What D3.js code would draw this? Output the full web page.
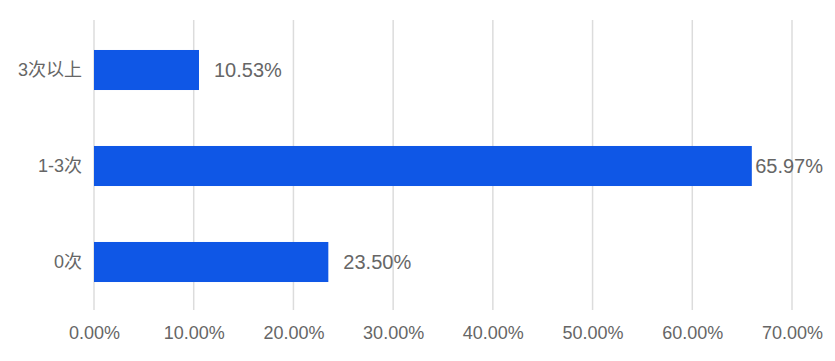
<!DOCTYPE html>
<html>
<head>
<meta charset="utf-8">
<script src="https://cdn.jsdelivr.net/npm/d3@7"></script>
<style>
  body { margin: 0; background: #fff; }
  text { font-family: "Liberation Sans", Arial, "Noto Sans CJK SC", sans-serif; fill: #666; }
</style>
</head>
<body>
<svg id="chart" width="835" height="361"></svg>
<script>
const categories = ['3次以上', '1-3次', '0次'];
const values = [0.1053, 0.6597, 0.2350];
const tickValues = [0, 0.1, 0.2, 0.3, 0.4, 0.5, 0.6, 0.7];

const svg = d3.select('#chart');
const width = 835;
const margin = { top: 20, left: 94, right: 43, bottom: 51 };
const innerW = 792 - margin.left;
const innerH = 310 - margin.top;

const x = d3.scaleLinear().domain([0, 0.7]).range([margin.left, margin.left + innerW]);
// step 96px, bar 40px
const y = d3.scaleBand().domain(categories).range([22, 310]).paddingInner(0.583).paddingOuter(0.2915);

const fmt = d => (d * 100).toFixed(2) + '%';

// gridlines
svg.append('g')
  .selectAll('line')
  .data(tickValues)
  .join('line')
  .attr('x1', d => x(d)).attr('x2', d => x(d))
  .attr('y1', margin.top).attr('y2', margin.top + innerH)
  .attr('stroke', '#dcdcdc')
  .attr('stroke-width', 1.5);

// x axis labels
const xAxis = svg.append('g')
  .attr('transform', `translate(0,${margin.top + innerH})`)
  .call(d3.axisBottom(x).tickValues(tickValues).tickFormat(fmt).tickSize(0).tickPadding(16));
xAxis.select('.domain').remove();
xAxis.selectAll('text').attr('font-size', 18).attr('fill', '#666').style('font-family', '"Liberation Sans", Arial, sans-serif');

// y axis labels
const yAxis = svg.append('g')
  .attr('transform', `translate(${margin.left},0)`)
  .call(d3.axisLeft(y).tickSize(0).tickPadding(12));
yAxis.select('.domain').remove();
yAxis.selectAll('text').attr('font-size', 18).attr('fill', '#666').style('font-family', '"Liberation Sans", Arial, "Noto Sans CJK SC", sans-serif');

// bars
svg.append('g')
  .selectAll('rect')
  .data(categories)
  .join('rect')
  .attr('x', x(0))
  .attr('y', d => y(d))
  .attr('width', (d, i) => x(values[i]) - x(0))
  .attr('height', y.bandwidth())
  .attr('fill', '#0f57e6');

// value labels
svg.append('g')
  .selectAll('text')
  .data(categories)
  .join('text')
  .attr('font-size', 20)
  .attr('dy', '0.35em')
  .attr('y', d => y(d) + y.bandwidth() / 2)
  .text((d, i) => fmt(values[i]))
  .attr('x', function (d, i) {
    const w = this.getComputedTextLength();
    return Math.min(x(values[i]) + 15, width - 12 - w);
  });
</script>
</body>
</html>
